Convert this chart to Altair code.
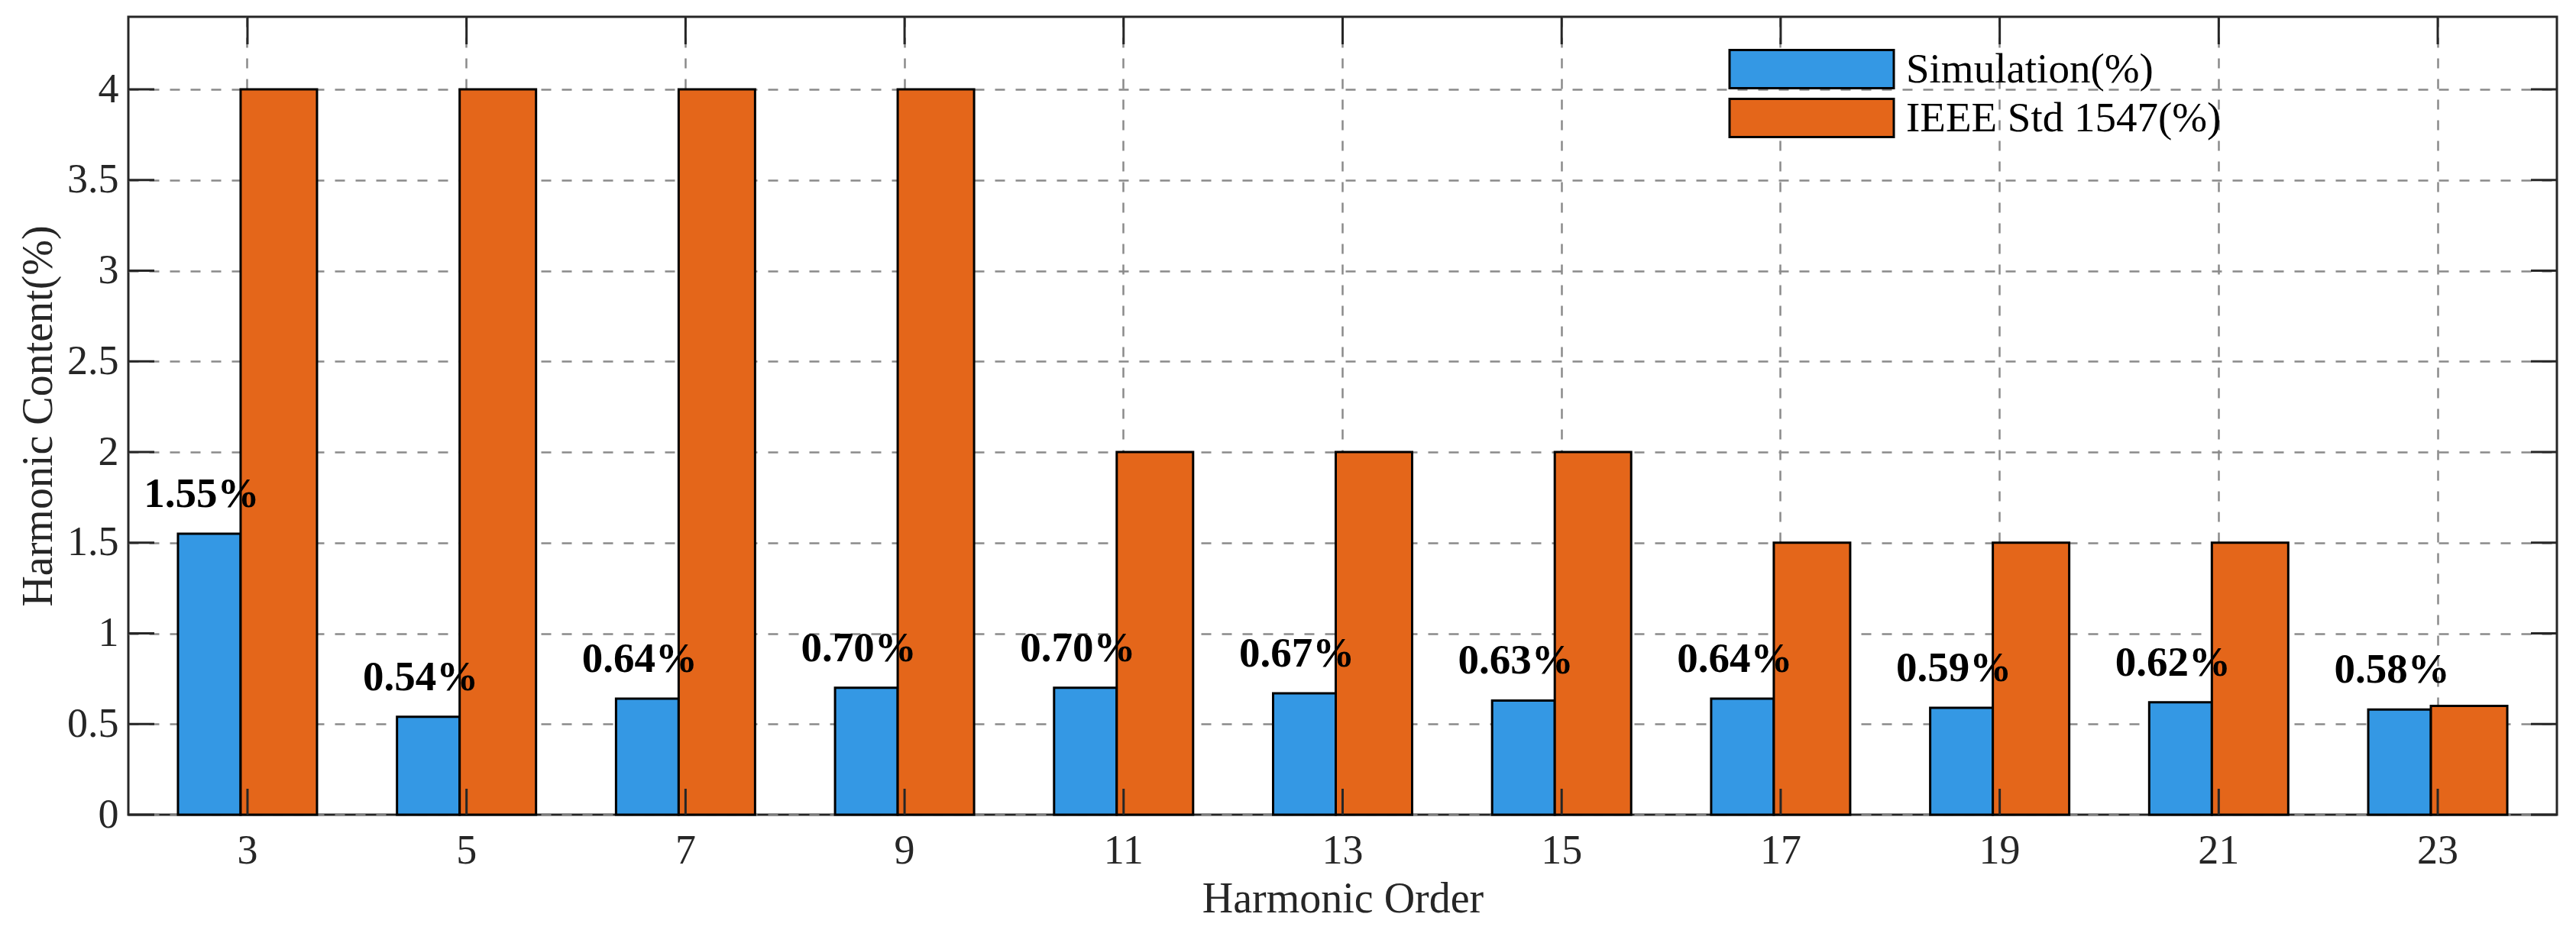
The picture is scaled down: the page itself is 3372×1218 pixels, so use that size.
import altair as alt
import pandas as pd

orders = [3, 5, 7, 9, 11, 13, 15, 17, 19, 21, 23]
simulation = [1.55, 0.54, 0.64, 0.70, 0.70, 0.67, 0.63, 0.64, 0.59, 0.62, 0.58]
ieee = [4, 4, 4, 4, 2, 2, 2, 1.5, 1.5, 1.5, 0.6]
series_names = ["Simulation(%)", "IEEE Std 1547(%)"]
series_colors = ["#3498e4", "#e4661a"]
y_ticks = [0, 0.5, 1, 1.5, 2, 2.5, 3, 3.5, 4]

W, H = 3179, 1045
FONT = "Liberation Serif"
DARK = "#262626"

df = pd.DataFrame({
    "order": orders * 2,
    "value": simulation + ieee,
    "series": [series_names[0]] * len(orders) + [series_names[1]] * len(orders),
})
sim_df = pd.DataFrame({"order": orders, "value": simulation})
ytick_df = pd.DataFrame({"value": y_ticks})
xtick_df = pd.DataFrame({"order": orders})

x_enc = alt.X(
    "order:O",
    scale=alt.Scale(domain=orders, paddingInner=0, paddingOuter=0.044),
    axis=alt.Axis(title="Harmonic Order", labelAngle=0, grid=True,
                  labelPadding=20, titlePadding=9),
)
y_enc = alt.Y(
    "value:Q",
    scale=alt.Scale(domain=[0, 4.4], nice=False, zero=True),
    axis=alt.Axis(title="Harmonic Content(%)", values=y_ticks, grid=True,
                  labelExpr="'' + datum.value", labelPadding=13, titlePadding=8),
)
color_enc = alt.Color(
    "series:N",
    scale=alt.Scale(domain=series_names, range=series_colors),
    legend=alt.Legend(
        orient="none", legendX=2176, legendY=41, title=None,
        symbolType="M-4.3,-1H4.3V1H-4.3Z", symbolSize=2500,
        symbolStrokeColor="black", symbolStrokeWidth=3, symbolOpacity=1,
        labelFont=FONT, labelFontSize=55, labelColor="black",
        labelOffset=96, rowPadding=1, padding=0, labelLimit=0,
    ),
)

base = alt.Chart(df)
sim_bars = base.transform_filter(alt.datum.series == series_names[0]).mark_bar(
    width=82, xOffset=-50, stroke="black", strokeWidth=3
).encode(x=x_enc, y=y_enc, color=color_enc)
ieee_bars = base.transform_filter(alt.datum.series == series_names[1]).mark_bar(
    width=100, xOffset=41, stroke="black", strokeWidth=3
).encode(x=x_enc, y=y_enc, color=color_enc)

tick_style = dict(color=DARK, strokeWidth=3)
yt_left = alt.Chart(ytick_df).mark_rule(**tick_style).encode(
    y=y_enc, x=alt.value(0), x2=alt.value(34))
yt_right = alt.Chart(ytick_df).mark_rule(**tick_style).encode(
    y=y_enc, x=alt.value(W - 34), x2=alt.value(W))
xt_bottom = alt.Chart(xtick_df).mark_rule(**tick_style).encode(
    x=x_enc, y=alt.value(H), y2=alt.value(H - 34))
xt_top = alt.Chart(xtick_df).mark_rule(**tick_style).encode(
    x=x_enc, y=alt.value(0), y2=alt.value(36))

labels = alt.Chart(sim_df).transform_calculate(
    label="format(datum.value, '.2f') + '%'"
).mark_text(
    font=FONT, fontSize=55, fontWeight="bold", color="black",
    align="center", baseline="alphabetic", dx=-60, dy=-35,
).encode(x=x_enc, y=y_enc, text="label:N")

chart = alt.layer(
    sim_bars, ieee_bars, yt_left, yt_right, xt_bottom, xt_top, labels
).properties(
    width=W, height=H,
    autosize=alt.AutoSizeParams(type="none"),
    padding={"left": 160, "top": 14, "right": 17, "bottom": 150},
).configure_view(
    stroke=DARK, strokeWidth=3
).configure_axis(
    labelFont=FONT, labelFontSize=54, labelColor=DARK,
    titleFont=FONT, titleFontSize=56, titleColor=DARK, titleFontWeight="normal",
    gridColor="#8a8a8a", gridDash=[13, 14], gridWidth=2.5,
    domain=False, ticks=False, tickSize=0,
)

chart.save("out.html", embed_options={"renderer": "svg", "actions": False})
